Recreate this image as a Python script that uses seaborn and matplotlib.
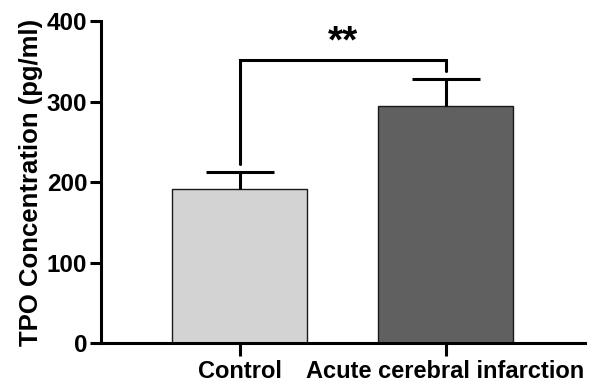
import matplotlib
matplotlib.use("Agg")
import matplotlib.pyplot as plt
import seaborn as sns
import pandas as pd
import numpy as np

groups = ["Control", "Acute cerebral infarction"]
means = [191, 295]
errors = [21, 33]
colors = ["#d3d3d3", "#606060"]
bracket_y = 352
significance = "**"
yticks = [0, 100, 200, 300, 400]

sns.set_theme(style="ticks")
plt.rcParams['font.family'] = ['Liberation Sans', 'DejaVu Sans']
plt.rcParams['font.weight'] = 'bold'
plt.rcParams['text.color'] = 'black'
plt.rcParams['axes.labelcolor'] = 'black'
plt.rcParams['xtick.color'] = 'black'
plt.rcParams['ytick.color'] = 'black'

df = pd.DataFrame({"group": groups, "value": means})

fig = plt.figure(figsize=(5.91, 3.85), dpi=100)
ax = fig.add_axes([0.171, 0.109, 0.819, 0.836])

sns.barplot(data=df, x="group", y="value", hue="group", palette=colors,
            width=0.655, errorbar=None, edgecolor="#1a1a1a", linewidth=1.0,
            legend=False, ax=ax)

x = np.arange(len(groups))
tops = np.array(means) + np.array(errors)
cap_half = 0.165
ax.vlines(x, means, tops, color="black", lw=2.2, zorder=5)
ax.hlines(tops, x - cap_half, x + cap_half, color="black", lw=2.2, zorder=5)

# significance bracket
ax.plot([x[0], x[0], x[1], x[1]],
        [tops[0] + 10, bracket_y, bracket_y, tops[1] + 10],
        color="black", lw=2.2, solid_joinstyle="miter", clip_on=False)
ax.text((x[0] + x[1]) / 2, bracket_y - 1, significance, ha="center", va="bottom",
        fontsize=28, fontweight="bold")

ax.set_ylim(0, 400)
ax.set_xlim(-0.672, 1.677)
ax.set_yticks(yticks)
ax.set_xlabel("")
ax.set_ylabel("TPO Concentration (pg/ml)", fontsize=18.5, fontweight="bold", labelpad=3)
for lab in ax.get_yticklabels() + ax.get_xticklabels():
    lab.set_fontweight("bold")
ax.tick_params(axis="y", labelsize=17.5, width=2.2, length=8, pad=2)
ax.tick_params(axis="x", labelsize=17, width=2.2, length=9, pad=3.5)
for s in ["top", "right"]:
    ax.spines[s].set_visible(False)
for s in ["left", "bottom"]:
    ax.spines[s].set_linewidth(2.2)
    ax.spines[s].set_color("black")

fig.savefig("out.png", dpi=100)
